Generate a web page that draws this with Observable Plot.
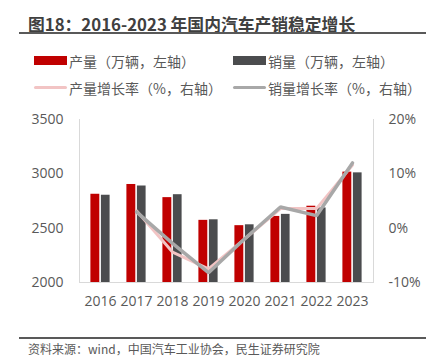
<!DOCTYPE html>
<html><head><meta charset="utf-8">
<script src="https://cdn.jsdelivr.net/npm/d3@7"></script>
<script src="https://cdn.jsdelivr.net/npm/@observablehq/plot@0.6"></script>
<style>
body{margin:0;background:#fff;}
#wrap{position:relative;width:444px;height:362px;overflow:hidden;background:#fff;font-family:"Noto Sans CJK SC","Open Sans",sans-serif;}
#title{position:absolute;left:28px;top:15px;font-size:16.8px;line-height:18px;font-weight:bold;color:#404040;white-space:nowrap;}
.rule{position:absolute;left:19px;width:407px;height:2px;background:#595959;}
.leg{position:absolute;font-size:14px;line-height:16px;color:#595959;white-space:nowrap;}
.sw{position:absolute;}
#chart{position:absolute;left:0;top:100px;}
#source{position:absolute;left:28px;top:342px;font-size:12px;line-height:14px;color:#595959;white-space:nowrap;}
</style></head><body>
<div id="wrap">
  <div id="title">图18：2016-2023 年国内汽车产销稳定增长</div>
  <div class="rule" style="top:32px"></div>
  <div id="legend"></div>
  <div id="chart"></div>
  <div class="rule" style="top:337px"></div>
  <div id="source">资料来源：wind，中国汽车工业协会，民生证券研究院</div>
</div>
<script>
const years = ["2016","2017","2018","2019","2020","2021","2022","2023"];
const production = [2812, 2902, 2781, 2572, 2523, 2608, 2702, 3016];
const sales = [2803, 2888, 2808, 2577, 2531, 2627, 2686, 3009];
const productionGrowth = [null, 3.2, -4.4, -7.5, -2.0, 3.6, 3.6, 11.6];
const salesGrowth = [null, 3.0, -2.8, -8.2, -2.0, 3.9, 2.3, 12.0];
const leftTicks = [2000, 2500, 3000, 3500];
const rightTicks = [-10, 0, 10, 20];
const rightTickLabels = ["-10%", "0%", "10%", "20%"];
const seriesNames = ["产量（万辆，左轴）", "销量（万辆，左轴）", "产量增长率（%，右轴）", "销量增长率（%，右轴）"];
const colors = ["#c00000", "#4b4c4e", "#f2c4c4", "#a8a8a8"];

// legend
const legend = document.getElementById("legend");
const legPos = [[34,56,9],[233,56,9],[34,86,3],[233,86,3]];
seriesNames.forEach((name, i) => {
  const [lx, ly, h] = legPos[i];
  const sw = document.createElement("div");
  sw.className = "sw";
  sw.style.cssText = `left:${lx}px;top:${ly}px;width:33px;height:${h}px;background:${colors[i]};border-radius:${h<5?2:0}px`;
  legend.appendChild(sw);
  const t = document.createElement("div");
  t.className = "leg";
  t.textContent = name;
  t.style.left = (lx + 35) + "px";
  t.style.top = (i < 2 ? 53 : 80) + "px";
  legend.appendChild(t);
});

const rows = years.map((y, i) => ({year: y, prod: production[i], sales: sales[i], pg: productionGrowth[i], sg: salesGrowth[i]}));
const yMin = leftTicks[0], yMax = leftTicks[leftTicks.length - 1];
const rMin = rightTicks[0], rMax = rightTicks[rightTicks.length - 1];
const toLeft = v => yMin + (v - rMin) / (rMax - rMin) * (yMax - yMin);
const growthRows = rows.filter(d => d.pg != null);

const chart = Plot.plot({
  width: 444, height: 220,
  marginLeft: 79, marginRight: 71, marginTop: 19, marginBottom: 38,
  style: {fontFamily: "'Open Sans','Noto Sans CJK SC',sans-serif", fontSize: "14px", color: "#595959", background: "transparent", overflow: "visible"},
  x: {domain: years, padding: 0, label: null},
  y: {domain: [yMin, yMax], label: null},
  marks: [
    Plot.frame({anchor: "left", stroke: "#d9d9d9"}),
    Plot.frame({anchor: "right", stroke: "#d9d9d9"}),
    Plot.frame({anchor: "bottom", stroke: "#d9d9d9"}),
    Plot.barY(rows, {x: "year", y1: yMin, y2: "prod", fill: colors[0], insetLeft: 8.4, insetRight: 18.7}),
    Plot.barY(rows, {x: "year", y1: yMin, y2: "sales", fill: colors[1], insetLeft: 18.9, insetRight: 8.4}),
    Plot.line(growthRows, {x: "year", y: d => toLeft(d.pg), stroke: colors[2], strokeWidth: 3, strokeLinejoin: "miter"}),
    Plot.line(growthRows, {x: "year", y: d => toLeft(d.sg), stroke: colors[3], strokeWidth: 3.5, strokeLinejoin: "miter"}),
    Plot.axisX({tickSize: 0, tickPadding: 14, label: null, fontSize: 14}),
    Plot.axisY(leftTicks, {anchor: "left", tickSize: 0, tickPadding: 16, label: null, fontSize: 14, tickFormat: d => String(d)}),
    Plot.axisY(rightTicks.map(toLeft), {anchor: "right", tickSize: 0, tickPadding: 15, label: null, fontSize: 14,
      tickFormat: (d) => rightTickLabels[rightTicks.map(toLeft).indexOf(d)]})
  ]
});
document.getElementById("chart").appendChild(chart);
</script>
</body></html>
